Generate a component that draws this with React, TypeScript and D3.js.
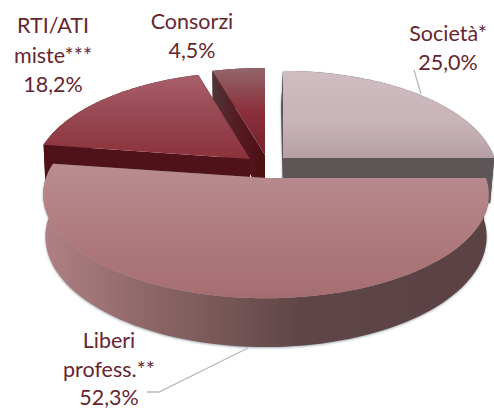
import React from 'react';
import * as d3 from 'd3';

const categories = ['Società*', 'Liberi professionisti', 'RTI/ATI miste', 'Consorzi'];
const shares = [25.0, 52.3, 18.2, 4.5];
const labelLines = [['Società*'], ['Liberi', 'profess.**'], ['RTI/ATI', 'miste***'], ['Consorzi']];

const width = 494;
const height = 410;
const radius = 220;
const tilt = 101;
const persp = 0.16; // the back of the pie is smaller than the front
const floorShrink = 0.99; // the underside rim is a bit narrower than the top one

// where each exploded slice sits, drawn back to front
const slices = [
  { i: 3, x: 265, y: 155, scale: 0.99, depth: 45, lean: 0, top: 'gTop3', wall: '#4a1218', face: 'gFace3' },
  { i: 2, x: 250, y: 159, scale: 0.97, depth: 45, lean: 0, top: 'gTop2', wall: '#4f1218', face: '#4f1218' },
  { i: 0, x: 283, y: 158, scale: 0.96, depth: 45, lean: -2, top: 'gTop0', wall: '#5d5557', face: '#5d5557' },
  { i: 1, x: 266, y: 178, scale: 1, depth: 41, lean: 0, top: 'gTop1', wall: 'gWall1', face: '#5b4345' },
];

const labelPos = [
  { x: 448, y: 41 },
  { x: 109, y: 348 },
  { x: 53, y: 33 },
  { x: 192, y: 29 },
];
const lineGap = [29, 28.5, 29.5, 29];

const leaders: [number, number][][] = [
  [[414, 70], [421, 94]],
  [[147, 392], [159, 392], [248, 348]],
];

const arcs = d3
  .pie<number>()
  .sort(null)
  .value(d => d)(shares);

const pathOf = d3.line<number[]>().x(d => d[0]).y(d => d[1]);

const project = (a: number, r: number, s: (typeof slices)[number], down = false) => {
  const wx = r * Math.sin(a);
  const wy = r * Math.cos(a);
  const k = 1 / (1 + persp * wy);
  const drop = down ? s.depth * k : 0;
  const spread = radius * s.scale * (down ? floorShrink : 1);
  return [s.x + spread * wx * k + (down ? s.lean * r : 0), s.y - tilt * wy * k + drop];
};

const arcAngles = (i: number) => {
  const { startAngle, endAngle } = arcs[i];
  const scale = d3.scaleLinear().domain([0, 90]).range([startAngle, endAngle]);
  return d3.range(0, 91).map(scale);
};

const App = () => {
  return (
    <svg
      width={width}
      height={height}
      viewBox={`0 0 ${width} ${height}`}
      style={{ position: 'fixed', left: 0, top: 0, background: '#fff' }}
      role="img"
      aria-label={categories.join(', ')}
    >
      <defs>
        <linearGradient id="gTop0" gradientUnits="userSpaceOnUse" x1="0" x2="0" y1="71" y2="158">
          <stop offset="0" stopColor="#cfbdc1" />
          <stop offset="0.6" stopColor="#c8b3b7" />
          <stop offset="1" stopColor="#b59fa4" />
        </linearGradient>
        <linearGradient id="gTop1" gradientUnits="userSpaceOnUse" x1="0" x2="0" y1="163" y2="298">
          <stop offset="0" stopColor="#b98d92" />
          <stop offset="0.5" stopColor="#b07c7f" />
          <stop offset="1" stopColor="#a66d70" />
        </linearGradient>
        <linearGradient id="gTop2" gradientUnits="userSpaceOnUse" x1="0" x2="0" y1="75" y2="159">
          <stop offset="0" stopColor="#a8606a" />
          <stop offset="0.5" stopColor="#964650" />
          <stop offset="1" stopColor="#8c323c" />
        </linearGradient>
        <linearGradient id="gTop3" gradientUnits="userSpaceOnUse" x1="0" x2="0" y1="69" y2="155">
          <stop offset="0" stopColor="#93646a" />
          <stop offset="0.5" stopColor="#8a2f3a" />
          <stop offset="1" stopColor="#762230" />
        </linearGradient>
        <linearGradient id="gFace3" gradientUnits="userSpaceOnUse" x1="212" x2="262" y1="0" y2="0">
          <stop offset="0" stopColor="#4e3538" />
          <stop offset="0.5" stopColor="#551c22" />
          <stop offset="1" stopColor="#4e0f15" />
        </linearGradient>
        <linearGradient id="gWall1" gradientUnits="userSpaceOnUse" x1="45" x2="490" y1="0" y2="0">
          <stop offset="0" stopColor="#ae8083" />
          <stop offset="0.25" stopColor="#8b6566" />
          <stop offset="0.58" stopColor="#5f4546" />
          <stop offset="1" stopColor="#5a4244" />
        </linearGradient>
        <filter id="soft" x="-5%" y="-5%" width="110%" height="115%">
          <feDropShadow dx="0" dy="1" stdDeviation="1.2" floodColor="#566673" floodOpacity="0.55" />
        </filter>
      </defs>

      {slices.map(s => {
        const angles = arcAngles(s.i);
        const rim = angles.map(a => project(a, 1, s));
        const rimDown = angles.map(a => project(a, 1, s, true)).reverse();
        const apex = project(0, 0, s);
        const apexDown = [apex[0], apex[1] + s.depth];
        const paint = (c: string) => (c.startsWith('#') ? c : `url(#${c})`);
        return (
          <g key={categories[s.i]} filter={s.i === 1 || s.i === 0 ? 'url(#soft)' : undefined}>
            <path d={pathOf([...rim, ...rimDown])!} fill={paint(s.wall)} />
            <path d={pathOf([rim[0], rimDown[rimDown.length - 1], apexDown, apex])!} fill={paint(s.face)} />
            <path d={pathOf([rim[rim.length - 1], rimDown[0], apexDown, apex])!} fill={paint(s.face)} />
            <path d={pathOf([apex, ...rim]) + 'Z'} fill={paint(s.top)} />
          </g>
        );
      })}

      {leaders.map((pts, i) => (
        <path key={i} d={pathOf(pts)!} fill="none" stroke="#b9b9bb" strokeWidth={1.3} />
      ))}

      <g fontFamily="Lato, sans-serif" fontSize={21.5} fill="#66262f" textAnchor="middle">
        {labelLines.map((lines, i) => (
          <text key={categories[i]} x={labelPos[i].x} y={labelPos[i].y}>
            {[...lines, shares[i].toFixed(1).replace('.', ',') + '%'].map((t, j) => (
              <tspan key={j} x={labelPos[i].x} y={labelPos[i].y + j * lineGap[i]}>
                {t}
              </tspan>
            ))}
          </text>
        ))}
      </g>
    </svg>
  );
};

export default App;
